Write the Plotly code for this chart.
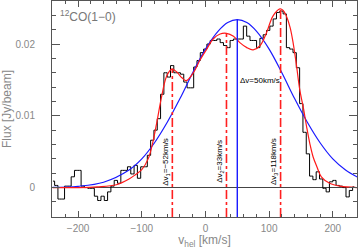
import plotly.graph_objects as go

# ---------------- data ----------------
# channel centres (km/s) and observed flux (mJy/beam)
vel_chan = [-239.5, -234.3, -229.1, -223.9, -218.7, -213.5, -208.3, -203.1, -197.9, -192.7,
            -187.5, -182.3, -177.1, -171.9, -166.7, -161.5, -156.3, -151.1, -145.9, -140.7,
            -135.5, -130.3, -125.1, -119.9, -114.7, -109.5, -104.3, -99.1, -93.9, -88.7,
            -83.5, -78.3, -73.1, -67.9, -62.7, -57.5, -52.3, -47.1, -41.9, -36.7,
            -31.5, -26.3, -21.1, -15.9, -10.7, -5.5, -0.3, 4.9, 10.1, 15.3,
            20.5, 25.7, 30.9, 36.1, 41.3, 46.5, 51.7, 56.9, 62.1, 67.3,
            72.5, 77.7, 82.9, 88.1, 93.3, 98.5, 103.7, 108.9, 114.1, 119.3,
            124.5, 129.7, 134.9, 140.1, 145.3, 150.5, 155.7, 160.9, 166.1, 171.3,
            176.5, 181.7, 186.9, 192.1, 197.3, 202.5, 207.7, 212.9, 218.1, 223.3,
            228.5, 233.7]
flux_mjy = [0.9, 0.3, -1.6, -1.6, 0.2, 0.2, 1.5, 2.4, 2.4, 0.2,
            0.0, -0.1, -0.1, -1.2, -1.8, -1.2, -1.8, -0.6, 0.2, 1.0,
            0.6, 2.4, 2.4, 2.9, 1.9, 3.1, 1.3, 2.9, 2.9, 4.5,
            6.6, 8.0, 9.6, 13.0, 16.0, 15.4, 17.0, 16.0, 16.0, 15.8,
            14.7, 13.9, 13.9, 16.8, 17.7, 18.8, 19.3, 20.0, 20.5, 20.5,
            20.7, 20.2, 19.8, 19.5, 20.5, 20.7, 20.7, 20.7, 22.5, 21.1,
            20.5, 20.5, 19.5, 20.8, 21.3, 21.9, 22.5, 23.5, 24.4, 24.6,
            24.2, 19.5, 19.3, 18.8, 16.7, 11.7, 7.7, 4.7, 1.6, 1.1,
            2.2, 1.2, -0.1, -0.6, 0.8, 1.0, 0.3, 0.2, 0.0, -1.3,
            -0.4, 0.1]

# three-component fit (red)
red_v = [-240, -200, -170, -140, -120, -110, -100, -90, -84, -77, -69, -61, -53, -45, -37,
         -30, -19, -9, 2, 12, 23, 33, 44, 54, 65, 75, 86, 96, 106, 117, 122, 127, 133,
         138, 143, 148, 154, 159, 164, 169, 175, 182, 195, 211, 240]
red_f = [0.0000, 0.0000, 0.0001, 0.0004, 0.0012, 0.0018, 0.0025, 0.0040, 0.0058, 0.0088,
         0.0126, 0.0155, 0.0165, 0.0161, 0.0153, 0.0149, 0.0160, 0.0177, 0.0193, 0.0207,
         0.0214, 0.0215, 0.0211, 0.0202, 0.0195, 0.0192, 0.0198, 0.0216, 0.0239, 0.0249,
         0.0247, 0.0239, 0.0223, 0.0200, 0.0170, 0.0137, 0.0110, 0.0084, 0.0061, 0.0043,
         0.0029, 0.0015, 0.0006, 0.0002, 0.0000]

# single-component fit (blue)
blue_v = [-240, -200, -160, -120, -100, -80, -60, -40, -20, 0, 20, 35, 50, 65, 80, 100,
          120, 140, 160, 180, 200, 220, 240]
blue_f = [0.00003, 0.00018, 0.00075, 0.00245, 0.0040, 0.00625, 0.0091, 0.0124, 0.0160,
          0.0193, 0.0218, 0.0230, 0.0234, 0.0230, 0.0218, 0.0193, 0.0160, 0.0124, 0.0091,
          0.00625, 0.0040, 0.00245, 0.00139]

comp_v = [-52, 33, 118]
comp_peak = [0.0166, 0.0215, 0.0248]
comp_labels = ["Δv<sub>1</sub>=−52km/s", "Δv<sub>2</sub>=33km/s", "Δv<sub>3</sub>=118km/s"]
single_v = 50
single_peak = 0.0234
single_label = "Δv=50km/s"

x_ticks = [-200, -100, 0, 100, 200]
x_ticktext = ["−200", "−100", "0", "100", "200"]
y_ticks = [0, 0.01, 0.02]
y_ticktext = ["0", "0.01", "0.02"]
x_range = [-241, 238]
y_range = [-0.0041, 0.026]

flux = [f * 0.001 for f in flux_mjy]

# ---------------- figure ----------------
fig = go.Figure()
fig.add_trace(go.Scatter(x=vel_chan, y=flux, mode="lines", line=dict(color="black", width=1, shape="hvh"),
                         showlegend=False, hoverinfo="skip"))
fig.add_trace(go.Scatter(x=blue_v, y=blue_f, mode="lines", line=dict(color="#1a1aff", width=1.2, shape="spline"),
                         showlegend=False, hoverinfo="skip"))
fig.add_trace(go.Scatter(x=red_v, y=red_f, mode="lines", line=dict(color="#ff1a1a", width=1.2, shape="spline"),
                         showlegend=False, hoverinfo="skip"))
for v, p in zip(comp_v, comp_peak):
    fig.add_trace(go.Scatter(x=[v, v], y=[y_range[0], p], mode="lines",
                             line=dict(color="#ff2020", width=1.6, dash="dashdot"),
                             showlegend=False, hoverinfo="skip"))
fig.add_trace(go.Scatter(x=[single_v, single_v], y=[y_range[0], single_peak], mode="lines",
                         line=dict(color="#1a1aff", width=1.4), showlegend=False, hoverinfo="skip"))

for v, lab in zip(comp_v, comp_labels):
    fig.add_annotation(x=v, y=0.00365, xref="x", yref="y", text=lab, textangle=-90, showarrow=False,
                       xshift=-6, font=dict(family="Liberation Sans", size=8, color="black"))
fig.add_annotation(x=single_v, y=0.0149, xref="x", yref="y", text=single_label, showarrow=False,
                   xanchor="left", xshift=1, font=dict(family="Liberation Sans", size=8, color="black"))
fig.add_annotation(x=0.02, y=0.93, xref="paper", yref="paper", text="<sup>12</sup>CO(1−0)",
                   showarrow=False, xanchor="left", yanchor="middle",
                   font=dict(family="Liberation Sans", size=12, color="#777"))

axis_common = dict(showline=True, linecolor="#555", linewidth=1, mirror="allticks", ticks="inside",
                   tickcolor="#555", showgrid=False, tickfont=dict(family="Liberation Sans", size=10, color="#888"))
fig.update_xaxes(range=x_range, tickvals=x_ticks, ticktext=x_ticktext, ticklen=6, zeroline=False,
                 minor=dict(dtick=20, ticks="inside", ticklen=3, tickcolor="#555"),
                 title=dict(text="v<sub>hel</sub> [km/s]", standoff=2,
                            font=dict(family="Liberation Sans", size=12, color="#888")),
                 ticklabelstandoff=2, **axis_common)
fig.update_yaxes(range=y_range, tickvals=y_ticks, ticktext=y_ticktext, ticklen=8, zeroline=True,
                 zerolinecolor="#444", zerolinewidth=1,
                 minor=dict(dtick=0.002, ticks="inside", ticklen=4, tickcolor="#555"),
                 title=dict(text="Flux [Jy/beam]", standoff=8,
                            font=dict(family="Liberation Sans", size=12, color="#888")),
                 ticklabelstandoff=14, **axis_common)
fig.update_layout(width=359, height=249, margin=dict(l=52, r=2, t=1, b=32, autoexpand=False),
                  paper_bgcolor="white", plot_bgcolor="white", showlegend=False)
fig.write_html("out.html", config={"displayModeBar": False},
               post_script="document.body.style.margin='0';document.body.style.padding='0';")
